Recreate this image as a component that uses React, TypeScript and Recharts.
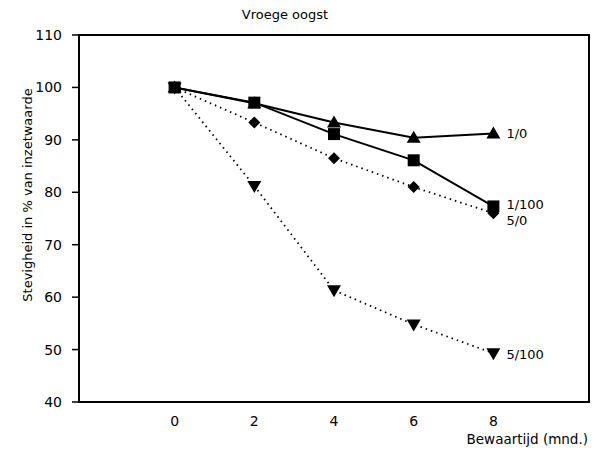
import React from 'react'
import { LineChart, Line, XAxis, YAxis, ReferenceArea, LabelList } from 'recharts'

const months = [0, 2, 4, 6, 8]
const seriesNames = ['1/0', '1/100', '5/0', '5/100']
const values1_0 = [100, 97, 93.3, 90.4, 91.2]
const values1_100 = [100, 97.1, 91.1, 86.1, 77.3]
const values5_0 = [100, 93.3, 86.5, 81, 76]
const values5_100 = [100, 81.2, 61.3, 54.8, 49.3]
const yTicks = [40, 50, 60, 70, 80, 90, 100, 110]
const xTicks = [0, 2, 4, 6, 8]

const data = months.map((m, i) => ({
  maand: m,
  s1_0: values1_0[i],
  s1_100: values1_100[i],
  s5_0: values5_0[i],
  s5_100: values5_100[i],
}))

const FONT = '"DejaVu Sans", sans-serif'

function marker(shape: string) {
  return (props: any) => {
    const { cx, cy, index } = props
    if (cx == null || cy == null) return <g key={index} />
    let d = ''
    if (shape === 'up') d = `M${cx},${cy - 7} L${cx + 7},${cy + 5} L${cx - 7},${cy + 5} Z`
    if (shape === 'down') d = `M${cx - 7},${cy - 5} L${cx + 7},${cy - 5} L${cx},${cy + 7} Z`
    if (shape === 'square') d = `M${cx - 6},${cy - 6} h12 v12 h-12 Z`
    if (shape === 'diamond') d = `M${cx},${cy - 6} L${cx + 6},${cy} L${cx},${cy + 6} L${cx - 6},${cy} Z`
    return <path key={index} d={d} fill="#000" stroke="none" />
  }
}

function endLabel(name: string, dy: number) {
  return (props: any) => {
    const { x, y, index } = props
    if (index !== months.length - 1) return null
    return (
      <text key={name} x={x + 13} y={y + dy} fontSize={13} fontFamily={FONT} fill="#000" dominantBaseline="middle">
        {name}
      </text>
    )
  }
}

export default function App() {
  return (
    <div style={{ position: 'absolute', left: 0, top: 0, width: 597, height: 456, background: '#fff' }}>
      <div style={{ position: 'absolute', left: 285, top: 7, transform: 'translateX(-50%)', fontFamily: FONT, fontSize: 13, whiteSpace: 'nowrap' }}>
        Vroege oogst
      </div>
      <div
        style={{
          position: 'absolute', left: 27, top: 195, transform: 'translate(-50%, -50%) rotate(-90deg)',
          fontFamily: FONT, fontSize: 13, whiteSpace: 'nowrap',
        }}
      >
        Stevigheid in % van inzetwaarde
      </div>
      <div style={{ position: 'absolute', right: 9, top: 431, fontFamily: FONT, fontSize: 13.5, whiteSpace: 'nowrap' }}>
        Bewaartijd (mnd.)
      </div>
      <LineChart width={597} height={456} data={data} margin={{ top: 35, right: 8, bottom: 0, left: 30 }}>
        <XAxis
          dataKey="maand"
          type="number"
          domain={[-2.4, 10.4]}
          ticks={xTicks}
          allowDataOverflow
          height={54}
          axisLine={{ stroke: '#000', strokeWidth: 2 }}
          tickLine={false}
          tickSize={0}
          tickMargin={14}
          tick={{ fill: '#000', fontSize: 14, fontFamily: FONT }}
        />
        <YAxis
          type="number"
          domain={[40, 110]}
          ticks={yTicks}
          width={49}
          axisLine={{ stroke: '#000', strokeWidth: 2 }}
          tickLine={{ stroke: '#000', strokeWidth: 1.5 }}
          tickSize={7}
          tickMargin={10}
          tick={{ fill: '#000', fontSize: 14, fontFamily: FONT }}
        />
        <ReferenceArea x1={-2.4} x2={10.4} y1={40} y2={110} fill="none" stroke="#000" strokeWidth={2} ifOverflow="visible" />
        <Line
          dataKey="s5_100"
          name={seriesNames[3]}
          stroke="#000"
          strokeWidth={1.8}
          strokeDasharray="1.5 4"
          dot={marker('down')}
          activeDot={false}
          isAnimationActive={false}
        >
          <LabelList dataKey="s5_100" content={endLabel(seriesNames[3], 2)} />
        </Line>
        <Line
          dataKey="s5_0"
          name={seriesNames[2]}
          stroke="#000"
          strokeWidth={1.8}
          strokeDasharray="1.5 4"
          dot={marker('diamond')}
          activeDot={false}
          isAnimationActive={false}
        >
          <LabelList dataKey="s5_0" content={endLabel(seriesNames[2], 8)} />
        </Line>
        <Line
          dataKey="s1_0"
          name={seriesNames[0]}
          stroke="#000"
          strokeWidth={2}
          dot={marker('up')}
          activeDot={false}
          isAnimationActive={false}
        >
          <LabelList dataKey="s1_0" content={endLabel(seriesNames[0], 1)} />
        </Line>
        <Line
          dataKey="s1_100"
          name={seriesNames[1]}
          stroke="#000"
          strokeWidth={2}
          dot={marker('square')}
          activeDot={false}
          isAnimationActive={false}
        >
          <LabelList dataKey="s1_100" content={endLabel(seriesNames[1], -1)} />
        </Line>
      </LineChart>
    </div>
  )
}
